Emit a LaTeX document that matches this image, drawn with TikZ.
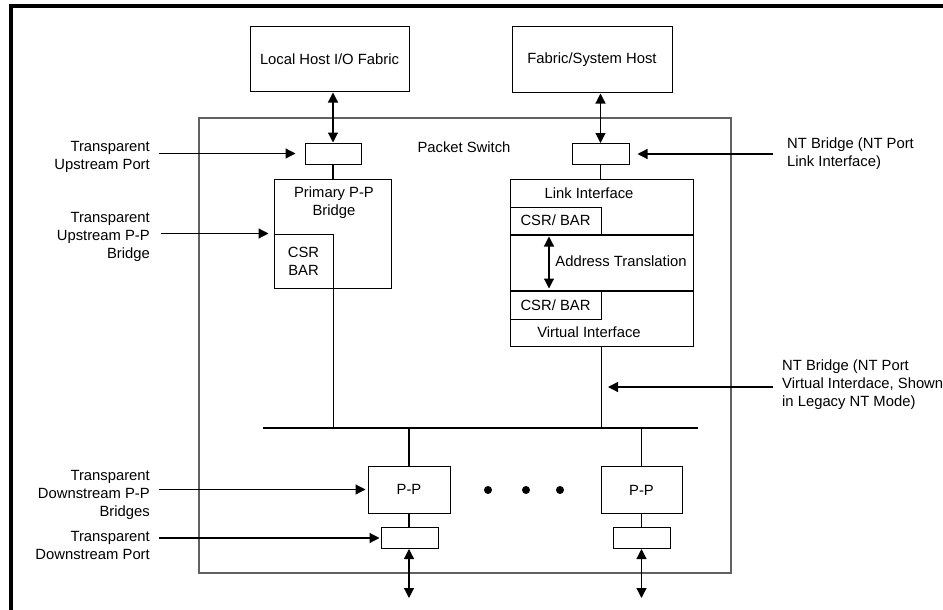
\documentclass[tikz,border=0pt]{standalone}
\usepackage{fontspec}
\setmainfont{Liberation Sans}
\usepackage{tikz}
\usetikzlibrary{calc}
\usetikzlibrary{positioning}
\usetikzlibrary{arrows.meta}
\tikzset{
  blk_box/.style = {draw=black, line width=1pt, inner sep=0pt, align=center,
    font=\fontsize{14.8}{18}\selectfont},          % plain box
  sw_box/.style = {draw=black!62, line width=1.1pt, inner sep=0pt}, % switch outline
  port_box/.style = {blk_box, minimum width=57pt, minimum height=21pt}, % port
  pp_box/.style = {blk_box, minimum width=82pt, minimum height=47pt},   % P-P bridge
  row_box/.style = {blk_box, minimum width=183pt, minimum height=55pt}, % NT row
  csr_box/.style = {blk_box, minimum width=91pt},                       % CSR/ BAR
  txt/.style = {inner sep=0pt, align=center, font=\fontsize{14.8}{18}\selectfont},
  lbl_l/.style = {txt, align=right, anchor=east},  % left side notes
  lbl_r/.style = {txt, align=left, anchor=west},   % right side notes
  conn/.style = {line width=1.2pt},
  dbl_arr/.style = {conn, {Triangle[length=10pt,width=10pt]}-{Triangle[length=10pt,width=10pt]}},
  lbl_arr/.style = {conn, -{Triangle[length=10pt,width=10pt]}},
  bus_line/.style = {line width=2pt}
}

\begin{document}
\begin{tikzpicture}[x=1pt,y=-1pt]
  \useasboundingbox (0,0) rectangle (943,610);
  \draw[line width=3.5pt] (11,610) -- (11,6) -- (943,6);

  % hosts
  \node[blk_box, minimum width=159pt, minimum height=65pt] (local_host) at (329.5,59.5) {Local Host I/O Fabric};
  \node[blk_box, minimum width=160pt, minimum height=66pt] (sys_host) at (592,60) {Fabric/System Host};

  % packet switch
  \node[sw_box, minimum width=532pt, minimum height=455pt] (pkt_sw) at (465,345.5) {};
  \node[txt] (pkt_lbl) at (464,147) {Packet Switch};

  % upstream side
  \node[port_box, minimum width=56pt] (up_port) at (333,153.5) {};
  \node[blk_box, minimum width=117pt, minimum height=109pt] (pp_main) at (332.5,233.5) {};
  \node[txt] (pp_main_lbl) at (334,203) {Primary P-P\\Bridge};
  \node[blk_box, minimum width=59pt, minimum height=54pt, anchor=south west] (csr_up) at (pp_main.south west) {CSR\\BAR};

  % NT bridge
  \node[port_box] (nt_port) at (600.5,154) {};
  \node[row_box] (link_if) at (601.5,206.5) {};
  \node[row_box, below=0pt of link_if] (addr_tr) {};
  \node[row_box, below=0pt of addr_tr] (virt_if) {};
  \node[csr_box, minimum height=27pt, anchor=south west] (csr_link) at (link_if.south west) {CSR/ BAR};
  \node[csr_box, minimum height=28pt, anchor=north west] (csr_virt) at (virt_if.north west) {CSR/ BAR};
  \node[txt] (link_lbl) at (589,193) {Link Interface};
  \node[txt] (addr_lbl) at (621,261) {Address Translation};
  \node[txt] (virt_lbl) at (589,332) {Virtual Interface};

  % bus and downstream
  \coordinate (bus_l) at (263,428);
  \coordinate (bus_r) at (698,428);
  \node[pp_box] (pp_dn1) at (409,489.5) {P-P};
  \node[port_box] (port_dn1) at (409.5,538) {};
  \node[pp_box, minimum width=81pt] (pp_dn2) at (641.5,490) {P-P};
  \node[port_box] (port_dn2) at (641.5,538) {};
  \coordinate (io_dn1) at (409,598);
  \coordinate (io_dn2) at (641.5,598);
  \foreach \x in {488,526,560}
    \fill (\x,490) circle (4pt);

  \draw[dbl_arr] (up_port.north |- local_host.south) -- (up_port.north);
  \draw[conn] (up_port.south) -- (up_port.south |- pp_main.north);
  \draw[conn] (csr_up.south east) -- (csr_up.south east |- bus_l);
  \draw[dbl_arr] (nt_port.north |- sys_host.south) -- (nt_port.north);
  \draw[conn] (nt_port.south) -- (nt_port.south |- link_if.north);
  \draw[dbl_arr, shorten <=2pt, shorten >=2pt] ([xshift=-6.5pt]csr_link.south) -- ([xshift=-6.5pt]csr_virt.north);
  \draw[conn] (virt_if.south) -- (virt_if.south |- bus_l);
  \draw[bus_line] (bus_l) -- (bus_r);
  \draw[conn] (pp_dn1.north |- bus_l) -- (pp_dn1.north);
  \draw[conn] (pp_dn1.south) -- (port_dn1.north -| pp_dn1.south);
  \draw[conn] (pp_dn2.north |- bus_l) -- (pp_dn2.north);
  \draw[conn] (pp_dn2.south) -- (port_dn2.north);
  \draw[dbl_arr] (port_dn1.south -| io_dn1) -- (io_dn1);
  \draw[dbl_arr] (port_dn2.south) -- (io_dn2);

  % side notes
  \node[lbl_l] (lbl_uport) at (150,157) {Transparent\\Upstream Port};
  \node[lbl_l] (lbl_upp) at (150,237) {Transparent\\Upstream P-P\\Bridge};
  \node[lbl_l] (lbl_dnpp) at (150,495) {Transparent\\Downstream P-P\\Bridges};
  \node[lbl_l] (lbl_dnport) at (150,545.5) {Transparent\\Downstream Port};
  \node[lbl_r] (lbl_ntlink) at (787,153.5) {NT Bridge (NT Port\\Link Interface)};
  \node[lbl_r] (lbl_ntvirt) at (782,385) {NT Bridge (NT Port\\Virtual Interdace, Shown\\in Legacy NT Mode)};
  \coordinate (virt_tap) at (601,387);

  \draw[lbl_arr, shorten >=9pt] ([xshift=9pt]lbl_uport.east |- up_port.west) -- (up_port.west);
  \draw[lbl_arr, shorten >=5pt] ([xshift=11pt]lbl_upp.east |- csr_up.north west) -- (csr_up.north west);
  \draw[lbl_arr, shorten >=2pt] ([xshift=9pt]lbl_dnpp.east |- pp_dn1.west) -- (pp_dn1.west);
  \draw[lbl_arr, shorten >=1pt] ([xshift=9pt]lbl_dnport.east |- port_dn1.west) -- (port_dn1.west);
  \draw[lbl_arr, shorten >=8pt] ([xshift=-14pt]lbl_ntlink.west |- nt_port.east) -- (nt_port.east);
  \draw[lbl_arr, shorten >=7pt] ([xshift=-9pt]lbl_ntvirt.west |- virt_tap) -- (virt_tap);
\end{tikzpicture}
\end{document}
